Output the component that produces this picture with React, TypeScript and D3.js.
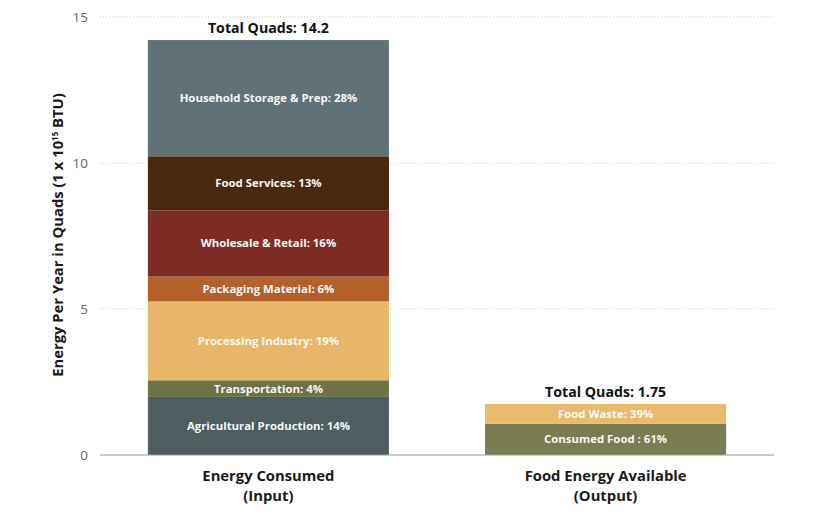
import * as d3 from 'd3';

const categories = ['Energy Consumed', 'Food Energy Available'];
const categorySub = ['(Input)', '(Output)'];
const totals = ['14.2', '1.75'];

const inputLabels = [
  'Agricultural Production',
  'Transportation',
  'Processing Industry',
  'Packaging Material',
  'Wholesale & Retail',
  'Food Services',
  'Household Storage & Prep',
];
const inputValues = [1.99, 0.57, 2.7, 0.85, 2.27, 1.85, 3.98];
const inputShares = [14, 4, 19, 6, 16, 13, 28];
const inputColours = ['#4d5d60', '#6f7146', '#e8b668', '#b4602a', '#7d2c23', '#4a2a0e', '#607277'];

const outputLabels = ['Consumed Food ', 'Food Waste'];
const outputValues = [1.07, 0.68];
const outputShares = [61, 39];
const outputColours = ['#7b7c51', '#e9b96c'];

const yTicks = [0, 5, 10, 15];

const W = 840;
const H = 516;
const FONT = '"Open Sans", "Noto Sans", sans-serif';

export default function App() {
  const x = d3.scaleBand<string>()
    .domain(categories)
    .range([100, 774])
    .paddingInner(0.285)
    .paddingOuter(0.142);

  const y = d3.scaleLinear().domain([0, 15]).range([455, 17]);

  const bars = [
    { labels: inputLabels, values: inputValues, shares: inputShares, colours: inputColours },
    { labels: outputLabels, values: outputValues, shares: outputShares, colours: outputColours },
  ];

  return (
    <div style={{ position: 'absolute', left: 0, top: 0 }}>
      <svg width={W} height={H} style={{ display: 'block', background: '#fff' }}>
        {/* grid */}
        {yTicks.filter((t) => t > 0).map((t) => (
          <line
            key={t}
            x1={100}
            x2={774}
            y1={y(t)}
            y2={y(t)}
            stroke="#c8c8c8"
            strokeWidth={1}
            strokeDasharray="1,2"
          />
        ))}
        {yTicks.map((t) => (
          <text
            key={'t' + t}
            x={88}
            y={y(t)}
            dy="0.35em"
            textAnchor="end"
            fontFamily={FONT}
            fontSize={13.5}
            fill="#666"
          >
            {t}
          </text>
        ))}

        {/* axis title */}
        <text
          transform="translate(63,235) rotate(-90)"
          textAnchor="middle"
          fontFamily={FONT}
          fontSize={14.8}
          fontWeight={700}
          fill="#1a1a1a"
        >
          Energy Per Year in Quads (1 x 10
          <tspan fontSize={8} baselineShift="super">15</tspan>
          {' BTU)'}
        </text>

        {/* bars */}
        {bars.map((bar, bi) => {
          const cat = categories[bi];
          const x0 = x(cat) ?? 0;
          const bw = x.bandwidth();
          const tops = d3.cumsum(bar.values);
          const total = tops[tops.length - 1];
          return (
            <g key={cat}>
              {bar.values.map((v, i) => {
                const top = tops[i];
                const bottom = top - v;
                const yt = y(top);
                const yb = y(bottom);
                return (
                  <g key={i}>
                    <rect x={x0} y={yt} width={bw} height={yb - yt} fill={bar.colours[i]} />
                    <text
                      x={x0 + bw / 2}
                      y={(yt + yb) / 2}
                      dy="0.35em"
                      textAnchor="middle"
                      fontFamily={FONT}
                      fontSize={11.4}
                      fontWeight={700}
                      fill="#f7f7f7"
                    >
                      {`${bar.labels[i]}: ${bar.shares[i]}%`}
                    </text>
                  </g>
                );
              })}
              <text
                x={x0 + bw / 2}
                y={y(total) - 7}
                textAnchor="middle"
                fontFamily={FONT}
                fontSize={14.2}
                fontWeight={700}
                fill="#111"
              >
                {`Total Quads: ${totals[bi]}`}
              </text>
              <text
                x={x0 + bw / 2}
                y={481}
                textAnchor="middle"
                fontFamily={FONT}
                fontSize={14.8}
                fontWeight={700}
                fill="#1a1a1a"
              >
                {cat}
              </text>
              <text
                x={x0 + bw / 2}
                y={501}
                textAnchor="middle"
                fontFamily={FONT}
                fontSize={14.8}
                fontWeight={700}
                fill="#1a1a1a"
              >
                {categorySub[bi]}
              </text>
            </g>
          );
        })}

        {/* baseline */}
        <line x1={100} x2={774} y1={y(0)} y2={y(0)} stroke="#9a9a9a" strokeWidth={1.2} />
      </svg>
    </div>
  );
}
